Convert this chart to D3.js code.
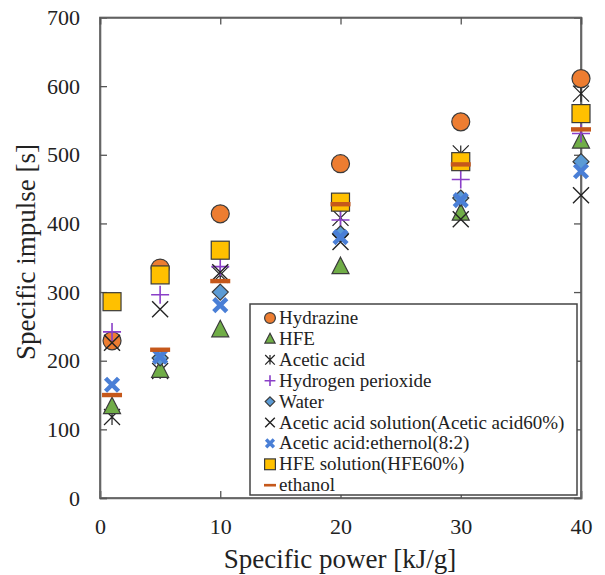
<!DOCTYPE html>
<html><head><meta charset="utf-8">
<script src="https://cdn.jsdelivr.net/npm/d3@7"></script>
<style>body{margin:0;background:#fff}svg{display:block}</style>
</head><body><svg id="c" width="605" height="575"></svg>
<script>
const xs = [1, 5, 10, 20, 30, 40];
const hydrazine = [229, 335, 414, 487, 548, 611];
const hfe = [133, 186, 245, 337, 415, 520];
const aceticAcid = [118, 185, 325, 408, 502, 589];
const hydrogenPeroxide = [242, 296, 337, 405, 464, 531];
const water = [null, 204, 300, 385, 437, 490];
const aceticSolution = [226, 275, 329, 373, 406, 441];
const aceticEthanol = [165, 206, 281, 380, 434, 476];
const hfeSolution = [286, 325, 361, 431, 490, 560];
const ethanol = [150, 216, 316, 428, 486, 537];
const xTicks = [0, 10, 20, 30, 40];
const yTicks = [0, 100, 200, 300, 400, 500, 600, 700];

const series = [
  {name: "Hydrazine", vals: hydrazine, sym: "circle"},
  {name: "HFE", vals: hfe, sym: "triangle"},
  {name: "Acetic acid", vals: aceticAcid, sym: "star"},
  {name: "Hydrogen perioxide", vals: hydrogenPeroxide, sym: "plus"},
  {name: "Water", vals: water, sym: "diamond"},
  {name: "Acetic acid solution(Acetic acid60%)", vals: aceticSolution, sym: "cross"},
  {name: "Acetic acid:ethernol(8:2)", vals: aceticEthanol, sym: "boldx"},
  {name: "HFE solution(HFE60%)", vals: hfeSolution, sym: "square"},
  {name: "ethanol", vals: ethanol, sym: "bar"}
];

const FONT = "Liberation Serif";
const svg = d3.select("#c");
const L = 100, R = 581, T = 17.5, B = 498;
const x = d3.scaleLinear().domain([0, 40]).range([L, R]);
const y = d3.scaleLinear().domain([0, 700]).range([B, T]);

function drawSym(g, sym, k) {
  switch (sym) {
    case "circle":
      g.append("circle").attr("r", 9 * k).attr("fill", "#ED7D31").attr("stroke", "#3a3a3a").attr("stroke-width", 1.2); break;
    case "triangle":
      g.append("path").attr("d", `M0,${-9.5*k}L${8.5*k},${7*k}L${-8.5*k},${7*k}Z`).attr("fill", "#70AD47").attr("stroke", "#3a3a3a").attr("stroke-width", 1.2); break;
    case "square":
      g.append("rect").attr("x", -9 * k).attr("y", -9 * k).attr("width", 18 * k).attr("height", 18 * k).attr("fill", "#FFC000").attr("stroke", "#3a3a3a").attr("stroke-width", 1.2); break;
    case "diamond":
      g.append("path").attr("d", `M0,${-8*k}L${8*k},0L0,${8*k}L${-8*k},0Z`).attr("fill", "#5B9BD5").attr("stroke", "#3a3a3a").attr("stroke-width", 1.2); break;
    case "boldx":
      g.append("path").attr("d", `M${-6.5*k},${-6.5*k}L${6.5*k},${6.5*k}M${6.5*k},${-6.5*k}L${-6.5*k},${6.5*k}`).attr("stroke", "#4A7FD6").attr("stroke-width", 4.5 * Math.max(k, 0.75)); break;
    case "cross":
      g.append("path").attr("d", `M${-8*k},${-8*k}L${8*k},${8*k}M${8*k},${-8*k}L${-8*k},${8*k}`).attr("stroke", "#222").attr("stroke-width", 1.4); break;
    case "star":
      g.append("path").attr("d", `M${-8*k},${-8*k}L${8*k},${8*k}M${8*k},${-8*k}L${-8*k},${8*k}M0,${-8*k}L0,${8*k}`).attr("stroke", "#222").attr("stroke-width", 1.2); break;
    case "plus":
      g.append("path").attr("d", `M${-9*k},0L${9*k},0M0,${-9*k}L0,${9*k}`).attr("stroke", "#8A3FC8").attr("stroke-width", 1.6); break;
    case "bar":
      g.append("rect").attr("x", -10 * k).attr("y", -2.2 * k).attr("width", 20 * k).attr("height", 4.4 * k).attr("fill", "#C5581B"); break;
  }
}

// frame
svg.append("rect").attr("x", L).attr("y", T).attr("width", R - L).attr("height", B - T)
  .attr("fill", "none").attr("stroke", "#555").attr("stroke-width", 1.6);

// axes
const ax = svg.append("g").attr("transform", `translate(0,${B})`)
  .call(d3.axisBottom(x).tickValues(xTicks).tickSize(-7).tickPadding(20).tickFormat(d3.format("d")));
const ay = svg.append("g").attr("transform", `translate(${L},0)`)
  .call(d3.axisLeft(y).tickValues(yTicks).tickSize(-7).tickPadding(20).tickFormat(d3.format("d")));
const axr = svg.append("g").attr("transform", `translate(${R},0)`)
  .call(d3.axisRight(y).tickValues(yTicks).tickSize(-7).tickFormat(""));
const axt = svg.append("g").attr("transform", `translate(0,${T})`)
  .call(d3.axisTop(x).tickValues(xTicks).tickSize(-7).tickFormat(""));
[ax, ay, axr, axt].forEach(a => {
  a.attr("font-family", FONT);
  a.select(".domain").attr("stroke", "#666").attr("stroke-width", 1.6);
  a.selectAll(".tick line").attr("stroke", "#555").attr("stroke-width", 1.3);
  a.selectAll("text").attr("font-size", 22).attr("fill", "#222").style("font-family", FONT);
});

// points (acetic acid drawn first so hydrazine covers it)
const order = [2, 0, 1, 3, 4, 5, 6, 7, 8];
order.forEach(i => {
  const s = series[i];
  xs.forEach((xv, j) => {
    const v = s.vals[j];
    if (v == null) return;
    const g = svg.append("g").attr("transform", `translate(${x(xv)},${y(v)})`);
    drawSym(g, s.sym, 1);
  });
});

// legend
const lg = svg.append("g").style("font-family", FONT);
lg.append("rect").attr("x", 250).attr("y", 304).attr("width", 327).attr("height", 191)
  .attr("fill", "#fff").attr("stroke", "#444").attr("stroke-width", 1.5);
series.forEach((s, i) => {
  const cy = 318 + i * 20.9;
  const g = lg.append("g").attr("transform", `translate(270,${cy})`);
  drawSym(g, s.sym, 0.6);
  lg.append("text").attr("x", 279).attr("y", cy + 6)
    .style("font-family", FONT).style("font-size", "19px").attr("fill", "#222").text(s.name);
});

// titles
svg.append("text").attr("x", 340).attr("y", 568).attr("text-anchor", "middle")
  .style("font-family", FONT).style("font-size", "27px").attr("fill", "#222").text("Specific power [kJ/g]");
svg.append("text").attr("transform", "translate(35,252) rotate(-90)").attr("text-anchor", "middle")
  .style("font-family", FONT).style("font-size", "27px").attr("fill", "#222").text("Specific impulse [s]");
</script></body></html>
